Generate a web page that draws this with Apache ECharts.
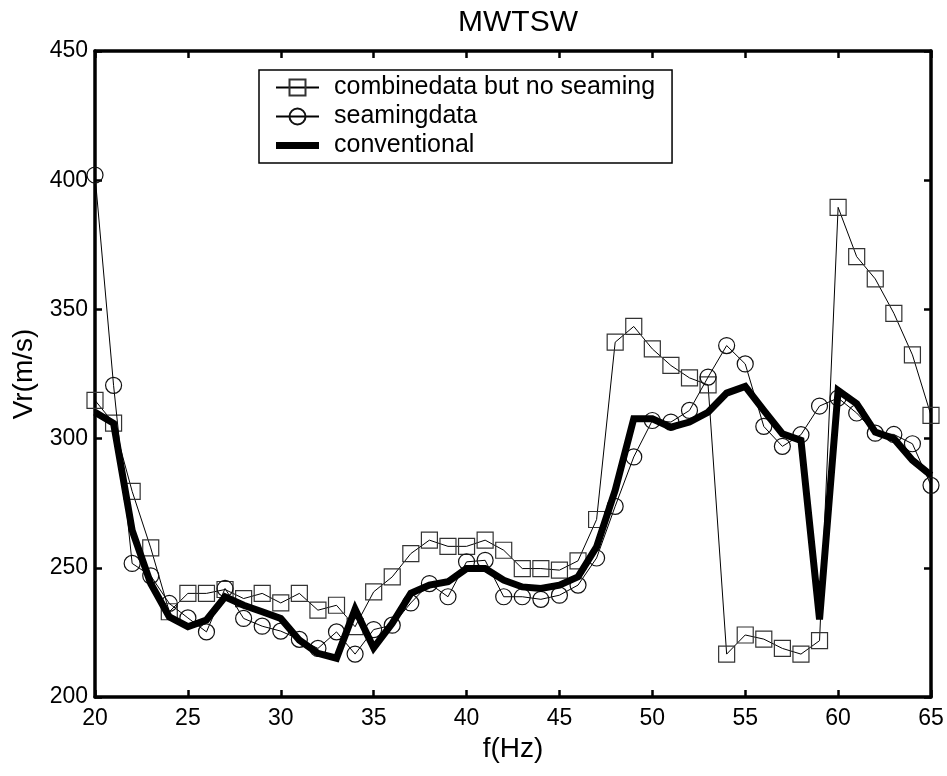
<!DOCTYPE html>
<html>
<head>
<meta charset="utf-8">
<script src="https://cdn.jsdelivr.net/npm/echarts@6/dist/echarts.min.js"></script>
<style>
html,body{margin:0;padding:0;background:#fff;}
#chart{width:947px;height:776px;}
</style>
</head>
<body>
<div id="chart"></div>
<script>
const freq = [20,21,22,23,24,25,26,27,28,29,30,31,32,33,34,35,36,37,38,39,40,41,42,43,44,45,46,47,48,49,50,51,52,53,54,55,56,57,58,59,60,61,62,63,64,65];
const combined = [314.8,306.0,279.6,257.7,233.0,240.1,240.1,241.6,238.1,240.1,236.4,240.1,233.6,235.5,227.2,240.7,246.5,255.5,260.7,258.3,258.3,260.7,256.8,249.7,249.7,249.1,252.7,268.7,337.3,343.4,334.7,328.3,323.5,320.8,216.6,224.0,222.4,218.8,216.6,221.8,389.5,370.4,361.8,348.5,332.4,309.0];
const seaming = [402.0,320.6,251.7,246.9,236.2,230.6,225.2,242.0,230.4,227.4,225.5,222.3,218.8,225.2,216.6,226.1,227.8,236.4,243.9,238.8,252.3,252.9,238.8,238.8,237.8,239.4,243.3,253.8,273.8,292.9,307.0,306.4,310.9,323.8,336.0,328.9,304.7,297.0,301.5,312.6,315.7,309.9,302.1,301.6,298.0,281.9];
const conventional = [310.2,305.9,264.5,243.9,231.0,227.2,229.8,238.8,235.5,233.0,230.4,222.0,216.9,215.0,234.0,219.0,228.5,240.1,243.3,244.6,249.7,249.7,245.2,242.6,242.0,243.3,246.5,258.1,280.0,307.7,307.7,304.4,306.4,310.2,317.6,320.2,310.9,301.9,299.3,230.0,318.6,313.5,302.5,300.0,291.6,285.8];
const xTicks = [20,25,30,35,40,45,50,55,60,65];
const yTicks = [200,250,300,350,400,450];

const FONT = 'Liberation Sans, Arial, Helvetica, sans-serif';
const pair = arr => freq.map((f, i) => [f, arr[i]]);

const chart = echarts.init(document.getElementById('chart'), null, {renderer: 'canvas'});
const axisLineStyle = {color: '#000', width: 3.5};
const tickStyle = {show: true, inside: true, length: 7, lineStyle: {color: '#000', width: 2.5}};

chart.setOption({
  animation: false,
  backgroundColor: '#fff',
  title: {
    text: 'MWTSW',
    left: 513, top: 3, textAlign: 'center',
    textStyle: {fontFamily: FONT, fontSize: 30, fontWeight: 'normal', color: '#000'}
  },
  grid: {left: 95, right: 16, top: 51, bottom: 79, containLabel: false},
  legend: {
    orient: 'vertical',
    left: 259, top: 70,
    padding: [5, 17, 5, 16],
    itemGap: 4,
    itemWidth: 43, itemHeight: 20,
    borderColor: '#000', borderWidth: 1.5,
    backgroundColor: '#fff',
    textStyle: {fontFamily: FONT, fontSize: 25, color: '#000', padding: [0, 0, 0, 10]},
    data: [
      {name: 'combinedata but no seaming'},
      {name: 'seamingdata'},
      {name: 'conventional', icon: 'path://M0,0 L43,0 L43,7 L0,7 Z', itemStyle: {color: '#000'}}
    ]
  },
  xAxis: [{
    type: 'value', min: 20, max: 65, interval: 5,
    name: 'f(Hz)', nameLocation: 'middle', nameGap: 38,
    nameTextStyle: {fontFamily: FONT, fontSize: 28, color: '#000'},
    axisLine: {show: true, onZero: false, lineStyle: axisLineStyle},
    axisTick: tickStyle,
    axisLabel: {fontFamily: FONT, fontSize: 23, color: '#000', margin: 10,
      formatter: v => xTicks.includes(v) ? String(v) : ''},
    splitLine: {show: false}
  }, {
    type: 'value', min: 20, max: 65, interval: 5, position: 'top',
    axisLine: {show: true, onZero: false, lineStyle: axisLineStyle},
    axisTick: tickStyle, axisLabel: {show: false}, splitLine: {show: false}
  }],
  yAxis: [{
    type: 'value', min: 200, max: 450, interval: 50,
    name: 'Vr(m/s)', nameLocation: 'middle', nameGap: 54,
    nameTextStyle: {fontFamily: FONT, fontSize: 28, color: '#000'},
    axisLine: {show: true, onZero: false, lineStyle: axisLineStyle},
    axisTick: tickStyle,
    axisLabel: {fontFamily: FONT, fontSize: 23, color: '#000', margin: 7,
      formatter: v => yTicks.includes(v) ? String(v) : ''},
    splitLine: {show: false}
  }, {
    type: 'value', min: 200, max: 450, interval: 50, position: 'right',
    axisLine: {show: true, onZero: false, lineStyle: axisLineStyle},
    axisTick: tickStyle, axisLabel: {show: false}, splitLine: {show: false}
  }],
  series: [{
    name: 'combinedata but no seaming',
    type: 'line',
    data: pair(combined),
    symbol: 'rect', symbolSize: 16,
    lineStyle: {color: '#000', width: 1},
    itemStyle: {color: 'rgba(255,255,255,0)', borderColor: '#333', borderWidth: 1.2},
    z: 2
  }, {
    name: 'seamingdata',
    type: 'line',
    data: pair(seaming),
    symbol: 'circle', symbolSize: 16,
    lineStyle: {color: '#000', width: 1},
    itemStyle: {color: 'rgba(255,255,255,0)', borderColor: '#111', borderWidth: 1.2},
    z: 3
  }, {
    name: 'conventional',
    type: 'line',
    data: pair(conventional),
    symbol: 'none',
    lineStyle: {color: '#000', width: 7, join: 'miter', miterLimit: 4},
    itemStyle: {color: '#000'},
    z: 4
  }]
});
</script>
</body>
</html>
